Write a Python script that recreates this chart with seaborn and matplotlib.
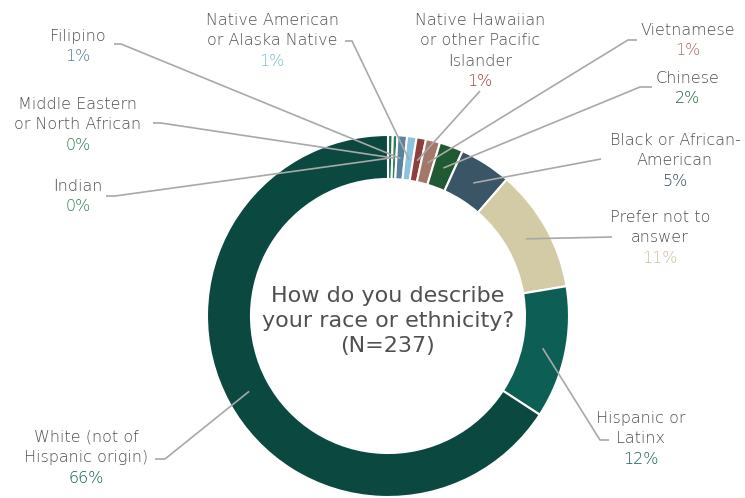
import matplotlib
matplotlib.use("Agg")
import matplotlib.pyplot as plt
import seaborn as sns
import numpy as np

# Survey responses, listed clockwise from 12 o'clock
categories = [
    "Indian",
    "Middle Eastern\nor North African",
    "Filipino",
    "Native American\nor Alaska Native",
    "Native Hawaiian\nor other Pacific\nIslander",
    "Vietnamese",
    "Chinese",
    "Black or African-\nAmerican",
    "Prefer not to\nanswer",
    "Hispanic or\nLatinx",
    "White (not of\nHispanic origin)",
]
counts = [1, 1, 2, 2, 2, 3, 5, 11, 26, 28, 156]
slice_colors = [
    "#1F6B50", "#2F8060", "#5B83A0", "#8CC3DC", "#8E3F3C", "#A57768",
    "#1F5A33", "#3A5666", "#D3CAA6", "#0D5F55", "#0B4840",
]
pct_colors = [
    "#2F7D52", "#2F7D52", "#4E7898", "#7DB8D4", "#9A3F3A", "#A06E60",
    "#22603A", "#2F4C5E", "#C9BF96", "#115F56", "#115F56",
]
question = "How do you describe\nyour race or ethnicity?\n(N={n})"

# Label placement (pixel space, y measured from top): center x, first-line y,
# and the leader path from the text side toward the ring
label_x = [78, 78, 78, 272, 480, 688, 688, 675, 660, 641, 86]
label_y = [186, 104, 36, 20, 20, 30, 78, 140, 217, 418, 437]
leader_start = [
    [(106, 196), (115, 196)],
    [(153, 123), (161, 123)],
    [(114, 44), (121, 44)],
    [(345, 41), (352, 41)],
    [(480, 91)],
    [(637, 40), (628, 40)],
    [(652, 87), (640, 87)],
    [(601, 159)],
    [(612, 237)],
    [(609, 440), (600, 440)],
    [(155, 459), (165, 459)],
]

W, H = 745, 498
CX, CY = 388, 316
R_OUT, RING = 181, 44
LINE_STEP = 20.5
TEXT_GRAY = "#4F4F4F"
LEADER = "#A8A8A8"

sns.set_theme(style="white")
plt.rcParams["font.family"] = ["DejaVu Sans"]

fig = plt.figure(figsize=(W / 100, H / 100), dpi=100)
ax = fig.add_axes([0, 0, 1, 1])


def py(y):
    return H - y


wedges, _ = ax.pie(
    counts,
    colors=slice_colors,
    startangle=90,
    counterclock=False,
    radius=R_OUT,
    center=(CX, py(CY)),
    wedgeprops=dict(width=RING, edgecolor="white", linewidth=1.5),
)
ax.set_xlim(0, W)
ax.set_ylim(0, H)
ax.set_aspect("auto")
ax.axis("off")

total = sum(counts)
r_mid = R_OUT - RING / 2 - 1

for i, (name, c) in enumerate(zip(categories, counts)):
    w = wedges[i]
    ang = np.deg2rad((w.theta1 + w.theta2) / 2)
    end = (CX + r_mid * np.cos(ang), py(CY) + r_mid * np.sin(ang))
    pts = [(x, py(y)) for x, y in leader_start[i]] + [end]
    xs, ys = zip(*pts)
    ax.plot(xs, ys, color=LEADER, lw=1.2, solid_capstyle="butt", zorder=5)

    lines = name.split("\n")
    for j, line in enumerate(lines):
        ax.text(label_x[i], py(label_y[i] + j * LINE_STEP), line,
                ha="center", va="center", fontsize=11.5, color=TEXT_GRAY,
                fontweight="light")
    pct = int(round(c / total * 100))
    ax.text(label_x[i], py(label_y[i] + len(lines) * LINE_STEP), f"{pct}%",
            ha="center", va="center", fontsize=11.5, color=pct_colors[i],
            fontweight="light")

for j, line in enumerate(question.format(n=total).split("\n")):
    ax.text(CX, py(296 + j * 25), line, ha="center", va="center",
            fontsize=16, color="#505050")

fig.savefig("out.png", dpi=100)
